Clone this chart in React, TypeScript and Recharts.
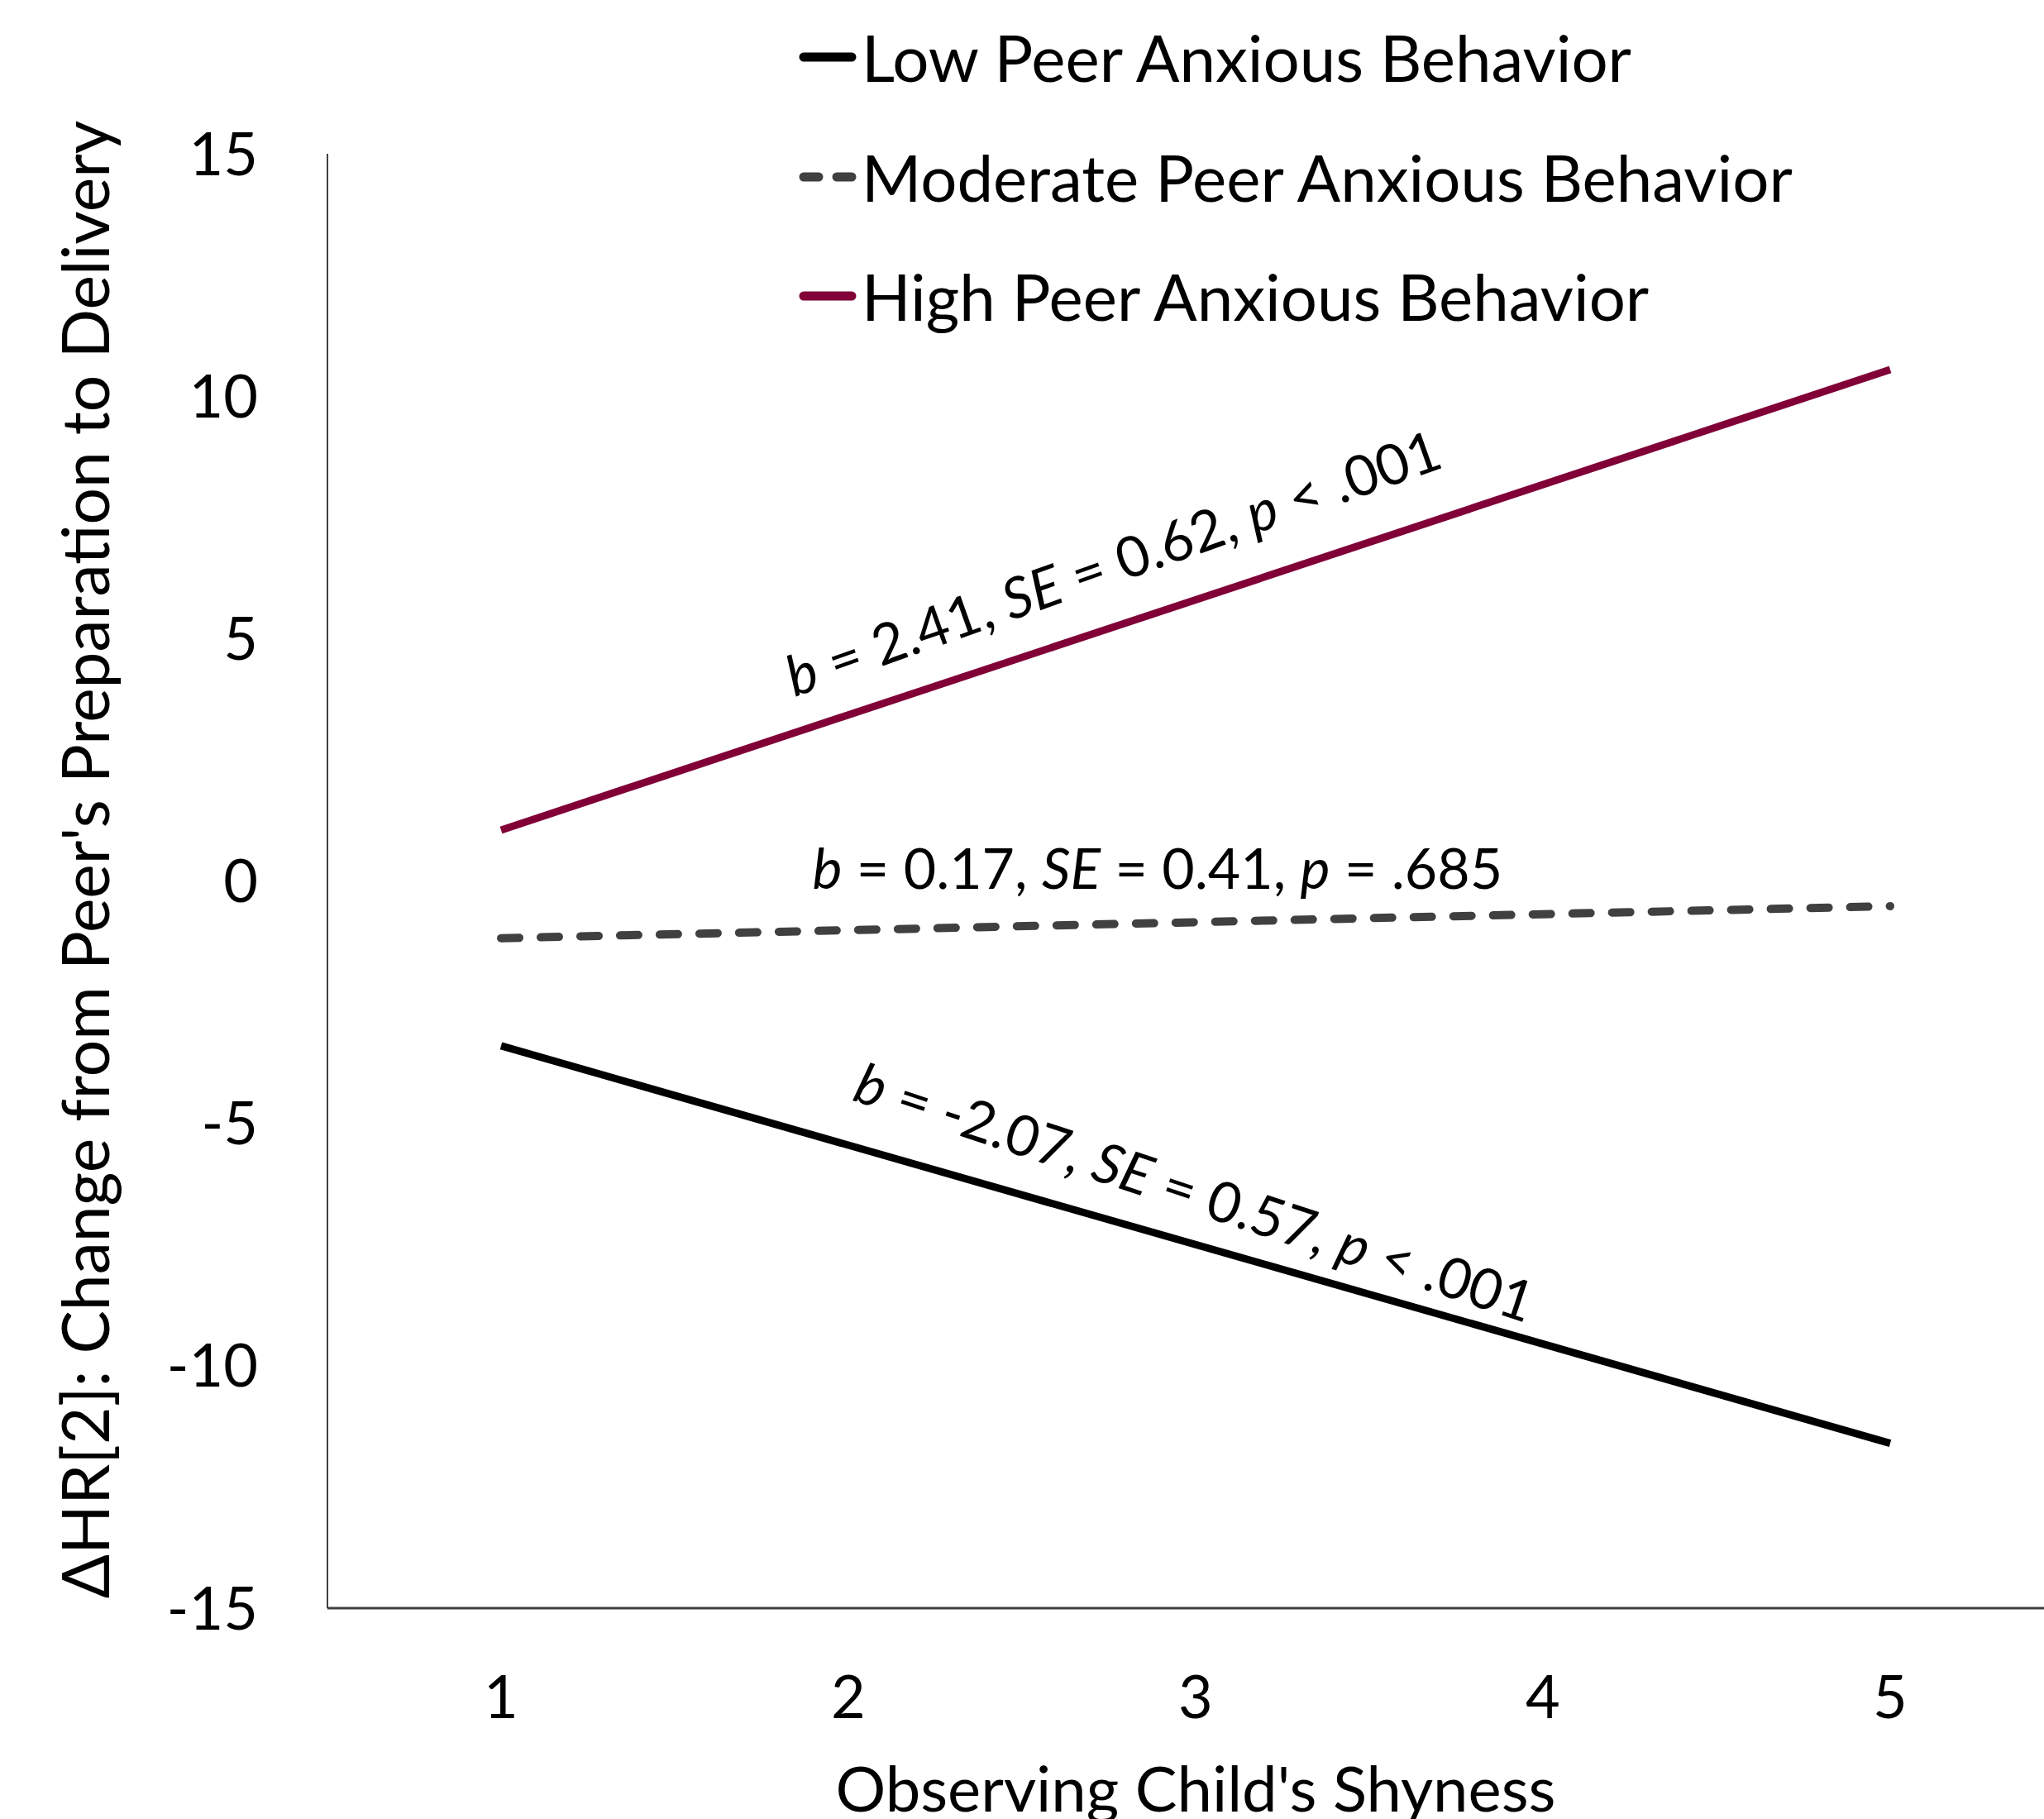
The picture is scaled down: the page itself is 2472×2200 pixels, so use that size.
import React from "react";
import { LineChart, Line, XAxis, YAxis, Legend, ReferenceDot } from "recharts";

const shynessLevels = [1, 5];
const lowValues = [-3.4, -11.6];
const moderateValues = [-1.18, -0.52];
const highValues = [1.05, 10.55];

const yTicks = [-15, -10, -5, 0, 5, 10, 15];
const xTicks = [1, 2, 3, 4, 5];

const seriesKeys = ["low", "moderate", "high"];
const seriesNames: Record<string, string> = {
  low: "Low Peer Anxious Behavior",
  moderate: "Moderate Peer Anxious Behavior",
  high: "High Peer Anxious Behavior",
};

const annotations = [
  { x: 2.76, y: 6.6, angle: -19.5, parts: [["b", true], [" = 2.41, ", false], ["SE", true], [" = 0.62, ", false], ["p", true], [" < .001", false]] },
  { x: 2.89, y: 0.3, angle: 0, parts: [["b", true], [" = 0.17, ", false], ["SE", true], [" = 0.41, ", false], ["p", true], [" = .685", false]] },
  { x: 3.0, y: -6.38, angle: 18.3, parts: [["b", true], [" = -2.07, ", false], ["SE", true], [" = 0.57, ", false], ["p", true], [" < .001", false]] },
];

const data = shynessLevels.map((s, i) => ({
  shyness: s,
  low: lowValues[i],
  moderate: moderateValues[i],
  high: highValues[i],
}));

const FONT = "Lato, 'Open Sans', sans-serif";

const seriesStyle: Record<string, { color: string; dash?: string }> = {
  low: { color: "#000000" },
  moderate: { color: "#404040", dash: "22 26" },
  high: { color: "#800037" },
};

const LegendContent = () => {
  return (
    <div style={{ fontFamily: FONT }}>
      {seriesKeys.map((key) => {
        const st = seriesStyle[key];
        return (
          <div key={key} style={{ display: "flex", alignItems: "center", height: 144.5 }}>
            <svg width={84} height={20} style={{ display: "block" }}>
              {st.dash ? (
                <>
                  <line x1={12} y1={10} x2={30} y2={10} stroke={st.color} strokeWidth={11} strokeLinecap="round" />
                  <line x1={52} y1={10} x2={70} y2={10} stroke={st.color} strokeWidth={11} strokeLinecap="round" />
                </>
              ) : (
                <line x1={12} y1={10} x2={70} y2={10} stroke={st.color} strokeWidth={11} strokeLinecap="round" />
              )}
            </svg>
            <span style={{ fontSize: 78, color: "#000", marginLeft: -2, lineHeight: 1 }}>{seriesNames[key]}</span>
          </div>
        );
      })}
    </div>
  );
};

const makeAnnotationLabel = (a: any) => (props: any) => {
  const vb = props.viewBox || {};
  const cx = vb.x + (vb.width || 0) / 2;
  const cy = vb.y + (vb.height || 0) / 2;
  return (
    <text
      x={cx}
      y={cy}
      textAnchor="middle"
      dominantBaseline="central"
      transform={`rotate(${a.angle} ${cx} ${cy})`}
      fontFamily={FONT}
      fontSize={68}
      fill="#000"
    >
      {a.parts.map((p: any, i: number) => (
        <tspan key={i} fontStyle={p[1] ? "italic" : "normal"}>
          {p[0]}
        </tspan>
      ))}
    </text>
  );
};

export default function App() {
  return (
    <div style={{ position: "absolute", left: 0, top: 0, width: 2472, height: 2200, overflow: "hidden", background: "#fff" }}>
      <LineChart width={2500} height={2200} data={data} margin={{ top: 186, right: 4, bottom: 0, left: 0 }}>
        <XAxis
          dataKey="shyness"
          type="number"
          domain={[0.5, 5.5]}
          ticks={xTicks}
          height={255}
          tickLine={false}
          tickSize={0}
          tickMargin={82}
          stroke="#404040"
          strokeWidth={3}
          tick={{ fontFamily: FONT, fontSize: 72, fill: "#000" }}
          label={(props: any) => {
            const vb = props.viewBox;
            return (
              <text x={vb.x + vb.width / 2} y={vb.y + 246} textAnchor="middle" fontFamily={FONT} fontSize={76} fill="#000">
                Observing Child's Shyness
              </text>
            );
          }}
        />
        <YAxis
          type="number"
          domain={[-15, 15]}
          ticks={yTicks}
          width={396}
          tickLine={false}
          tickSize={0}
          tickMargin={84}
          stroke="#404040"
          strokeWidth={2}
          tick={{ fontFamily: FONT, fontSize: 72, fill: "#000" }}
          label={(props: any) => {
            const vb = props.viewBox;
            const cx = vb.x + 102;
            const cy = vb.y + vb.height / 2 - 26;
            return (
              <text x={cx} y={cy} textAnchor="middle" dominantBaseline="central" transform={`rotate(-90 ${cx} ${cy})`} fontFamily={FONT} fontSize={78.5} fill="#000">
                ΔHR[2]: Change from Peer's Preparation to Delivery
              </text>
            );
          }}
        />
        <Legend
          verticalAlign="middle"
          align="center"
          layout="vertical"
          content={<LegendContent />}
          wrapperStyle={{ position: "absolute", left: 960, top: -3, width: 1400 }}
        />
        <Line dataKey="low" name={seriesNames.low} stroke={seriesStyle.low.color} strokeWidth={9} dot={false} isAnimationActive={false} />
        <Line
          dataKey="moderate"
          name={seriesNames.moderate}
          stroke={seriesStyle.moderate.color}
          strokeWidth={10}
          strokeDasharray={seriesStyle.moderate.dash}
          strokeLinecap="round"
          dot={false}
          isAnimationActive={false}
        />
        <Line dataKey="high" name={seriesNames.high} stroke={seriesStyle.high.color} strokeWidth={9} dot={false} isAnimationActive={false} />
        {annotations.map((a, i) => (
          <ReferenceDot key={i} x={a.x} y={a.y} r={0} fill="none" stroke="none" label={makeAnnotationLabel(a)} />
        ))}
      </LineChart>
    </div>
  );
}
